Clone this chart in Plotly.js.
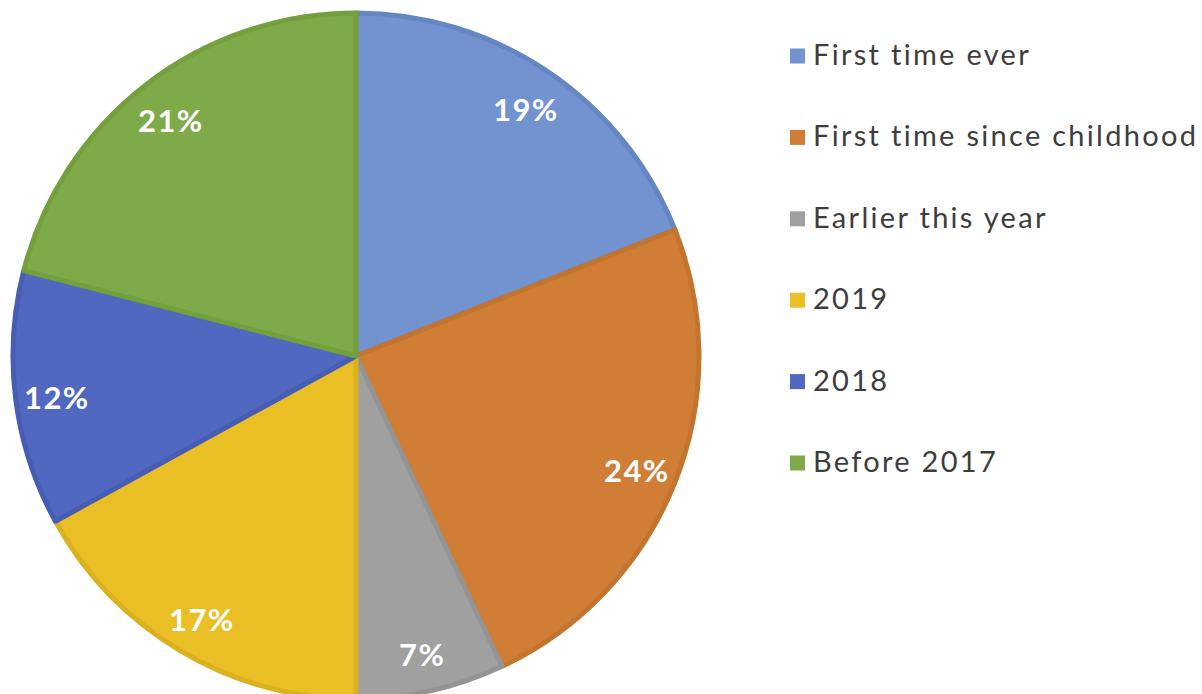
<!DOCTYPE html>
<html>
<head>
<meta charset="utf-8">
<script src="https://cdn.plot.ly/plotly-3.0.1.min.js"></script>
<style>
html, body { margin: 0; padding: 0; overflow: hidden; background: #ffffff; }
#chart { width: 1202px; height: 710px; }
.annotation-text { letter-spacing: 2.3px; }
.annotation-text[style*="Open Sans"] { letter-spacing: 1.4px; }
</style>
</head>
<body>
<div id="chart"></div>
<script>
// Data
const labels = ["First time ever", "First time since childhood", "Earlier this year", "2019", "2018", "Before 2017"];
const values = [19, 24, 7, 17, 12, 21];
const fillColors = ["#7293cf", "#d07e36", "#a0a0a0", "#eabf25", "#5068c0", "#7faa49"];
const lineColors = ["#6686c2", "#c3742f", "#949494", "#dab11e", "#475db3", "#73a03d"];

// Layout helpers (pixel -> paper)
const W = 1202, H = 710;
const M = { l: 13, r: 0, t: 13, b: 11 };
const PW = W - M.l - M.r, PH = H - M.t - M.b;
const fx = px => (px - M.l) / PW;
const fy = py => 1 - (py - M.t) / PH;

const pieSize = 686;
const R = pieSize / 2;
const cx = M.l + R, cy = M.t + R;

const annotations = [];
const shapes = [];

// Slice percentage labels, placed near the outer edge along each slice's mid angle
const total = values.reduce((a, b) => a + b, 0);
let cum = 0;
values.forEach((v, i) => {
  const mid = (cum + v / 2) / total * 2 * Math.PI;
  cum += v;
  const r = R * 0.88;
  const px = cx + r * Math.sin(mid);
  const py = cy - r * Math.cos(mid) + 3;
  annotations.push({
    xref: "paper", yref: "paper",
    x: fx(px), y: fy(py),
    xanchor: "center", yanchor: "middle",
    text: Math.round(v / total * 100) + "%", showarrow: false,
    font: { family: "Lato, 'Open Sans', sans-serif", size: 31, color: "#ffffff", weight: "bold" }
  });
});

// Legend (squares + labels)
const legendTop = 56, legendStep = 81.4;
labels.forEach((lab, i) => {
  const ly = legendTop + i * legendStep;
  annotations.push({
    xref: "paper", yref: "paper",
    x: fx(811), y: fy(ly - 2.5),
    xanchor: "left", yanchor: "middle",
    text: lab, showarrow: false,
    font: { family: "Lato, sans-serif", size: 29, color: "#3d3d3d" }
  });
  shapes.push({
    type: "rect", xref: "paper", yref: "paper",
    x0: fx(790), x1: fx(805), y0: fy(ly - 7.5), y1: fy(ly + 7.5),
    fillcolor: fillColors[i], line: { width: 0 }
  });
});

const trace = {
  type: "pie",
  labels: labels,
  values: values,
  sort: false,
  direction: "clockwise",
  rotation: 0,
  marker: { colors: fillColors, line: { color: lineColors, width: 5 } },
  textinfo: "none",
  hoverinfo: "label+percent",
  domain: { x: [0, pieSize / PW], y: [0, 1] },
  showlegend: false
};

const layout = {
  width: W, height: H,
  margin: M,
  paper_bgcolor: "#ffffff",
  plot_bgcolor: "#ffffff",
  showlegend: false,
  annotations: annotations,
  shapes: shapes
};

Plotly.newPlot("chart", [trace], layout, { displayModeBar: false, staticPlot: true });
</script>
</body>
</html>
